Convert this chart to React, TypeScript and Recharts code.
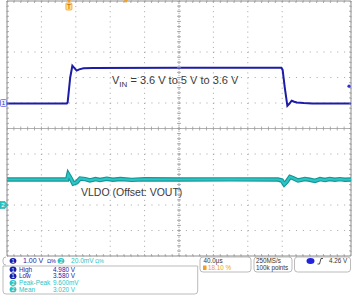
import React from 'react';
import {
  ComposedChart,
  Line,
  Scatter,
  XAxis,
  YAxis,
  CartesianGrid,
  ReferenceLine,
  ReferenceArea,
  ReferenceDot,
} from 'recharts';

// ---- Data (time in µs, 40 µs/div) ----
const blueT = [-200, -130.5, -129.5, -126.5, -124, -121, -119, -116, -111, -100, 0, 100, 119, 120.5, 123, 126, 128.5, 131, 134, 137, 145, 155, 200];
const blueV = [3.58, 3.58, 3.62, 4.6, 5.06, 4.95, 4.87, 4.92, 4.96, 4.97, 4.98, 4.98, 4.98, 4.9, 4.2, 3.49, 3.58, 3.69, 3.65, 3.62, 3.6, 3.585, 3.58];

const cyanT = [-200, -130, -128.7, -126, -122.9, -119, -115, -109, -103.5, -97, -92, -84, -77, -68, -55, -40, 0, 60, 115, 119.5, 122.4, 125, 129.1, 133, 138.4, 146.5, 152, 158.1, 164, 169.8, 175, 181.4, 187, 193, 200];
// mV above the 3.000 V offset
const cyanMV = [20, 20, 24, 21, 16.8, 17.8, 20.8, 20.3, 19.3, 20.3, 19.6, 20.6, 19.8, 20.4, 19.7, 20.2, 20, 20.1, 20, 19.2, 16.3, 18, 22, 21, 19.2, 20.4, 19.8, 18.9, 20.3, 19.6, 20.4, 19.8, 20.3, 19.8, 20];

const xTicks = [-200, -160, -120, -80, -40, 0, 40, 80, 120, 160, 200];
const yTicks = [-5, -4, -3, -2, -1, 0, 1, 2, 3, 4, 5];

// channel settings
const CH1_POS = 1; // div
const CH1_OFFSET = 3.6; // V
const CH1_SCALE = 1.0; // V/div
const CH2_POS = -3; // div
const CH2_SCALE = 20; // mV/div
const TRIG_LEVEL = 4.26; // V

const blueData = blueT.map((t, i) => ({ t, y: CH1_POS + (blueV[i] - CH1_OFFSET) / CH1_SCALE }));
const cyanData = cyanT.map((t, i) => ({ t, y: CH2_POS + cyanMV[i] / CH2_SCALE }));

// graticule minor ticks
const minorTicks: { t: number; y: number; k: string }[] = [];
for (let i = 0; i <= 50; i++) {
  const t = -200 + i * 8;
  minorTicks.push({ t, y: 0, k: 'cv' });
  minorTicks.push({ t, y: 5, k: 'top' });
  minorTicks.push({ t, y: -5, k: 'bot' });
}
for (let i = 0; i <= 50; i++) {
  const y = -5 + i * 0.2;
  minorTicks.push({ t: 0, y, k: 'ch' });
  minorTicks.push({ t: -200, y, k: 'left' });
  minorTicks.push({ t: 200, y, k: 'right' });
}

const TickShape = (props: any) => {
  const { cx, cy, payload } = props;
  const c = '#9a9a9a';
  switch (payload.k) {
    case 'cv':
      return <line x1={cx} x2={cx} y1={cy - 2} y2={cy + 2} stroke={c} strokeWidth={0.8} />;
    case 'ch':
      return <line x1={cx - 2} x2={cx + 2} y1={cy} y2={cy} stroke={c} strokeWidth={0.8} />;
    case 'top':
      return <line x1={cx} x2={cx} y1={cy} y2={cy + 2} stroke={c} strokeWidth={0.8} />;
    case 'bot':
      return <line x1={cx} x2={cx} y1={cy - 2} y2={cy} stroke={c} strokeWidth={0.8} />;
    case 'left':
      return <line x1={cx} x2={cx + 2} y1={cy} y2={cy} stroke={c} strokeWidth={0.8} />;
    default:
      return <line x1={cx - 2} x2={cx} y1={cy} y2={cy} stroke={c} strokeWidth={0.8} />;
  }
};

const BLUE = '#1c1ca6';
const CYAN = '#2cc4c4';
const CYAN_DARK = '#129696';
const ORANGE = '#f0a028';

const Ch1Marker = (p: any) => (
  <g>
    <rect x={0.5} y={p.cy - 3.5} width={6} height={7} rx={1} fill="#eef" stroke="#6a6ae0" strokeWidth={0.8} />
    <text x={3.5} y={p.cy + 2.3} fontSize={6} textAnchor="middle" fill="#3333cc" fontFamily="Liberation Sans, Arial">1</text>
  </g>
);
const Ch2Marker = (p: any) => (
  <g>
    <path d={`M0,${p.cy - 3.5} L5,${p.cy - 3.5} L7.5,${p.cy} L5,${p.cy + 3.5} L0,${p.cy + 3.5} Z`} fill={CYAN} stroke="#22aaaa" strokeWidth={0.6} />
    <text x={3} y={p.cy + 2.3} fontSize={6} textAnchor="middle" fill="#fff" fontFamily="Liberation Sans, Arial">2</text>
  </g>
);
const TrigMarker = (p: any) => (
  <g>
    <path d={`M${p.cx - 2},${p.cy - 1} L${p.cx + 2},${p.cy - 1} L${p.cx},${p.cy + 1.5} Z`} fill={ORANGE} />
    <rect x={p.cx - 3} y={p.cy + 2} width={6} height={7} rx={1} fill="#ffe0a0" stroke={ORANGE} strokeWidth={0.8} />
    <text x={p.cx} y={p.cy + 8} fontSize={6.5} textAnchor="middle" fill="#d07800" fontFamily="Liberation Sans, Arial" fontWeight="bold">T</text>
  </g>
);
const PosMarker = (p: any) => (
  <path d={`M${p.cx - 2},${p.cy - 1} L${p.cx + 2},${p.cy - 1} L${p.cx},${p.cy + 2} Z`} fill={ORANGE} />
);
const LevelMarker = (p: any) => <circle cx={p.cx - 2} cy={p.cy} r={1.6} fill="#3030d0" />;

const F = 'Liberation Sans, Arial, sans-serif';

export default function App() {
  return (
    <div style={{ position: 'absolute', left: 0, top: 0, width: 353, height: 295, background: '#fff' }}>
      <ComposedChart width={353} height={295} margin={{ top: 1, right: 2, bottom: 39, left: 7 }}>
        <XAxis dataKey="t" type="number" domain={[-200, 200]} ticks={xTicks} hide allowDataOverflow />
        <YAxis dataKey="y" type="number" domain={[-5, 5]} ticks={yTicks} hide allowDataOverflow />
        <CartesianGrid horizontal={false} vertical stroke="#a4a4a4" strokeDasharray="1 4.1" />
        <CartesianGrid horizontal vertical={false} stroke="#a4a4a4" strokeDasharray="1 5.88" />
        <ReferenceLine x={0} stroke="#a8a8a8" strokeDasharray="1 1" />
        <ReferenceLine y={0} stroke="#b0b0b0" />
        <ReferenceArea x1={-200} x2={200} y1={-5} y2={5} fill="none" fillOpacity={0} stroke="#8c8c8c" strokeWidth={1} />
        <Scatter data={minorTicks} dataKey="y" shape={TickShape} isAnimationActive={false} />
        <Line data={cyanData} dataKey="y" type="linear" stroke={CYAN_DARK} strokeWidth={4.4} dot={false} isAnimationActive={false} />
        <Line data={cyanData} dataKey="y" type="linear" stroke={CYAN} strokeWidth={2.2} dot={false} isAnimationActive={false} />
        <Line data={blueData} dataKey="y" type="linear" stroke={BLUE} strokeWidth={2} dot={false} isAnimationActive={false} />
        <ReferenceDot x={-200} y={CH1_POS} r={0} shape={Ch1Marker} ifOverflow="visible" />
        <ReferenceDot x={-200} y={CH2_POS} r={0} shape={Ch2Marker} ifOverflow="visible" />
        <ReferenceDot x={-128} y={5} r={0} shape={TrigMarker} ifOverflow="visible" />
        <ReferenceDot x={-61.6} y={5} r={0} shape={PosMarker} ifOverflow="visible" />
        <ReferenceDot x={200} y={CH1_POS + (TRIG_LEVEL - CH1_OFFSET) / CH1_SCALE} r={0} shape={LevelMarker} ifOverflow="visible" />
      </ComposedChart>
      <svg width={353} height={295} style={{ position: 'absolute', left: 0, top: 0, pointerEvents: 'none' }}>
        <text x={112} y={83.5} fontSize={11} fill="#3a3a3a" fontFamily={F}>
          V<tspan fontSize={8} dy={3.5}>IN</tspan>
          <tspan fontSize={11} dy={-3.5}> = 3.6 V to 5 V to 3.6 V</tspan>
        </text>
        <text x={81} y={196} fontSize={10.5} fill="#3a3a3a" fontFamily={F}>VLDO (Offset: VOUT)</text>

        {/* info panel */}
        <path d="M6,257 Q3,257 3,260 L3,262 Q3,265 6,265" fill="none" stroke="#aaa" strokeWidth={0.8} />
        <ellipse cx={13} cy={260.8} rx={3.4} ry={2.9} fill={BLUE} />
        <text x={13} y={262.9} fontSize={5.5} textAnchor="middle" fill="#fff" fontFamily={F}>1</text>
        <text x={23} y={263.3} fontSize={7} fill={BLUE} fontFamily={F}>1.00 V</text>
        <text x={47} y={263} fontSize={5.5} fill={BLUE} fontFamily={F}>Ω%</text>
        <ellipse cx={61} cy={260.8} rx={3.4} ry={2.9} fill={CYAN} />
        <text x={61} y={262.9} fontSize={5.5} textAnchor="middle" fill="#fff" fontFamily={F}>2</text>
        <text x={71} y={263.3} fontSize={6.6} fill={CYAN} fontFamily={F}>20.0mV</text>
        <text x={95} y={263} fontSize={5.5} fill={CYAN} fontFamily={F}>Ω%</text>

        <path d="M3,266 L197.7,266 L197.7,291 Q197.7,294 194.7,294 L6,294 Q3,294 3,291 Z" fill="none" stroke="#aaa" strokeWidth={0.8} />
        {[
          { n: '1', c: BLUE, label: 'High', val: '4.980 V', y: 271.7 },
          { n: '1', c: BLUE, label: 'Low', val: '3.580 V', y: 278.4 },
          { n: '2', c: CYAN, label: 'Peak-Peak', val: '9.600mV', y: 285.2 },
          { n: '2', c: CYAN, label: 'Mean', val: '3.020 V', y: 291.6 },
        ].map((r) => (
          <g key={r.label}>
            <ellipse cx={13} cy={r.y - 2.2} rx={3.4} ry={2.9} fill={r.c} />
            <text x={13} y={r.y - 0.2} fontSize={5.5} textAnchor="middle" fill="#fff" fontFamily={F}>{r.n}</text>
            <text x={19} y={r.y} fontSize={6.4} fill={r.c} fontFamily={F}>{r.label}</text>
            <text x={53} y={r.y} fontSize={6.4} fill={r.c} fontFamily={F}>{r.val}</text>
          </g>
        ))}

        <rect x={200} y={257} width={51} height={15} rx={3} fill="none" stroke="#aaa" strokeWidth={0.8} />
        <text x={203.5} y={263.3} fontSize={6.3} fill="#333" fontFamily={F}>40.0µs</text>
        <rect x={203} y={265.5} width={3.5} height={4.5} fill={ORANGE} />
        <text x={208} y={270.3} fontSize={6.3} fill={ORANGE} fontFamily={F}>18.10 %</text>

        <rect x={254} y={257} width={38} height={15} rx={3} fill="none" stroke="#aaa" strokeWidth={0.8} />
        <text x={256} y={263.3} fontSize={6.3} fill="#333" fontFamily={F}>250MS/s</text>
        <text x={256} y={270.3} fontSize={6.3} fill="#333" fontFamily={F}>100k points</text>

        <rect x={294.5} y={257} width={56} height={15} rx={3} fill="none" stroke="#aaa" strokeWidth={0.8} />
        <ellipse cx={310.5} cy={261} rx={4} ry={3} fill="#2222dd" />
        <path d="M317.5,264 L319.5,264 L321,258.5 L323,258.5" fill="none" stroke="#222" strokeWidth={0.8} />
        <text x={329} y={263.3} fontSize={6.3} fill="#333" fontFamily={F}>4.26 V</text>
      </svg>
    </div>
  );
}
